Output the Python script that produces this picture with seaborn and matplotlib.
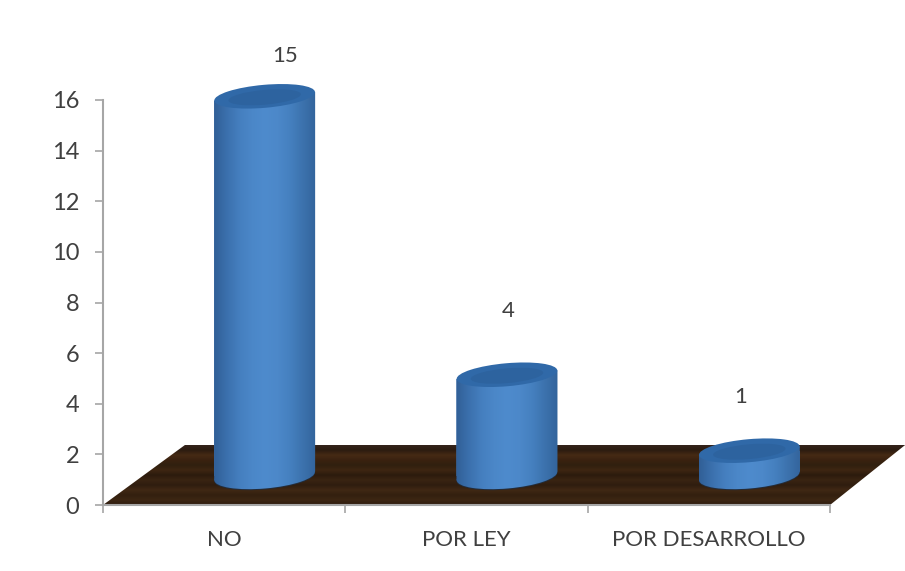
import numpy as np
import matplotlib
matplotlib.use("Agg")
import matplotlib.pyplot as plt
import seaborn as sns
from matplotlib.colors import LinearSegmentedColormap
from matplotlib.patches import Ellipse, Polygon, PathPatch
from matplotlib.path import Path
from matplotlib.transforms import IdentityTransform

categories = ["NO", "POR LEY", "POR DESARROLLO"]
values = [15, 4, 1]
y_ticks = list(range(0, 17, 2))

# styling (not data)
label_offsets_px = [(20, 40), (1, 64), (-9, 54)]
body_stops = ["#315f96", "#3b70ad", "#457fbf", "#4b87c8", "#4e8bcd", "#4c88c9", "#4580bf", "#3c72ad", "#33649c"]
floor_stops = ["#2e1c0e", "#3c2613", "#33200f", "#402814", "#2f1d0f", "#3a2412",
               "#2c1b0d", "#3e2612", "#30200f", "#3a2210", "#462a14", "#2c1c10", "#33221a"]
GREY = "#a6a6a6"
TEXT = "#404040"

sns.set_theme(style="white")
plt.rcParams["font.family"] = ["Lato", "DejaVu Sans"]

fig = plt.figure(figsize=(9.05, 5.71), dpi=100, facecolor="white")
W, H = 905, 571
ax = fig.add_axes([103 / W, (H - 505) / H, (830 - 103) / W, (505 - 100) / H])

sns.barplot(x=categories, y=values, order=categories, color="#457fbf",
            width=101 / 242.33, ax=ax, zorder=3, linewidth=0, edgecolor="none", saturation=1)
ax.set_xlim(-0.5, 2.5)
ax.set_ylim(0, 16)
ax.set_xlabel("")
ax.set_ylabel("")

DEPTH = 1.146      # the 3-D floor lift, in axis units
SHIFT = 0.167      # the 3-D sideways shift, in axis units
ELL_H = 21         # px
TILT = 5           # degrees

px = ax.transData.transform
body_cmap = LinearSegmentedColormap.from_list("body", body_stops)
grad = np.linspace(0, 1, 256).reshape(1, -1)

# floor
floor = Polygon([(-0.5, 0), (2.5, 0), (2.81, 2.37), (-0.162, 2.37)],
                closed=True, transform=ax.transData, fc="none", ec="none", clip_on=False)
ax.add_patch(floor)
floor_cmap = LinearSegmentedColormap.from_list("floor", floor_stops)
im = ax.imshow(np.linspace(0, 1, 256).reshape(-1, 1), cmap=floor_cmap, aspect="auto",
               extent=(-0.5, 2.81, 0, 2.37), origin="lower", zorder=1)
im.set_clip_box(fig.bbox)
im.set_clip_path(floor)

for bar, val, (dx, dy) in zip(list(ax.patches)[:len(values)], values, label_offsets_px):
    bar.set_x(bar.get_x() + SHIFT)
    bar.set_y(DEPTH)
    x0, x1 = bar.get_x(), bar.get_x() + bar.get_width()
    xc = (x0 + x1) / 2
    yb, yt = DEPTH, DEPTH + val
    (pl, pb), (pr, pt) = px((x0, yb)), px((x1, yt))
    pc = (pl + pr) / 2
    w = pr - pl
    slope = np.tan(np.radians(TILT)) * w / 2

    # cylinder wall, clipped to a slanted quad + the rounded base
    quad = Path([(pl, pb - slope), (pr, pb + slope), (pr, pt + slope), (pl, pt - slope),
                 (pl, pb - slope)], closed=True)
    wall = PathPatch(quad, transform=IdentityTransform(), fc="none", ec="none", clip_on=False)
    ax.add_patch(wall)
    bar.set_clip_on(True)
    bar.set_clip_box(fig.bbox)
    bar.set_clip_path(wall)
    base = Ellipse((pc, pb), w, ELL_H + 4, angle=TILT, transform=IdentityTransform(),
                   fc="none", ec="none", clip_on=False)
    ax.add_patch(base)
    for clip in (wall, base):
        g = ax.imshow(grad, cmap=body_cmap, aspect="auto",
                      extent=(x0, x1, yb - 1, yt + 1), zorder=4)
        g.set_clip_box(fig.bbox)
        g.set_clip_path(clip)
    # dark rim under the base
    ax.add_patch(Ellipse((pc, pb - 1), w, ELL_H + 4, angle=TILT, transform=IdentityTransform(),
                         fc="#232c3a", ec="none", clip_on=False, zorder=2.5))
    # top cap
    ax.add_patch(Ellipse((pc, pt), w, ELL_H + 2, angle=TILT, transform=IdentityTransform(),
                         fc="#3069a8", ec="none", clip_on=False, zorder=5))
    ax.add_patch(Ellipse((pc, pt - 1), w * 0.72, ELL_H * 0.7, angle=TILT, transform=IdentityTransform(),
                         fc="#2d639f", ec="none", clip_on=False, zorder=5.1))
    ax.annotate(str(val), xy=(xc, yt), xytext=(dx * 0.72, dy * 0.72), textcoords="offset points",
                ha="center", va="center", fontsize=16, color=TEXT, annotation_clip=False, zorder=6)

ax.set_xlim(-0.5, 2.5)
ax.set_ylim(0, 16)
ax.set_yticks(y_ticks)
ax.set_xticks([0, 1, 2], categories)
ax.set_xticks([-0.5, 0.5, 1.5, 2.5], minor=True)
ax.tick_params(axis="x", which="major", length=0, pad=18, labelsize=16, labelcolor=TEXT)
ax.tick_params(axis="x", which="minor", bottom=True, length=6, width=1.2, color=GREY)
ax.tick_params(axis="y", left=True, length=6, width=1.2, color=GREY, pad=11, labelsize=17, labelcolor=TEXT)
for s in ("top", "right"):
    ax.spines[s].set_visible(False)
for s in ("left", "bottom"):
    ax.spines[s].set_color(GREY)
    ax.spines[s].set_linewidth(1.5)
ax.patch.set_alpha(0)
ax.set_axisbelow(False)

fig.savefig("out.png", dpi=100, facecolor="white")
